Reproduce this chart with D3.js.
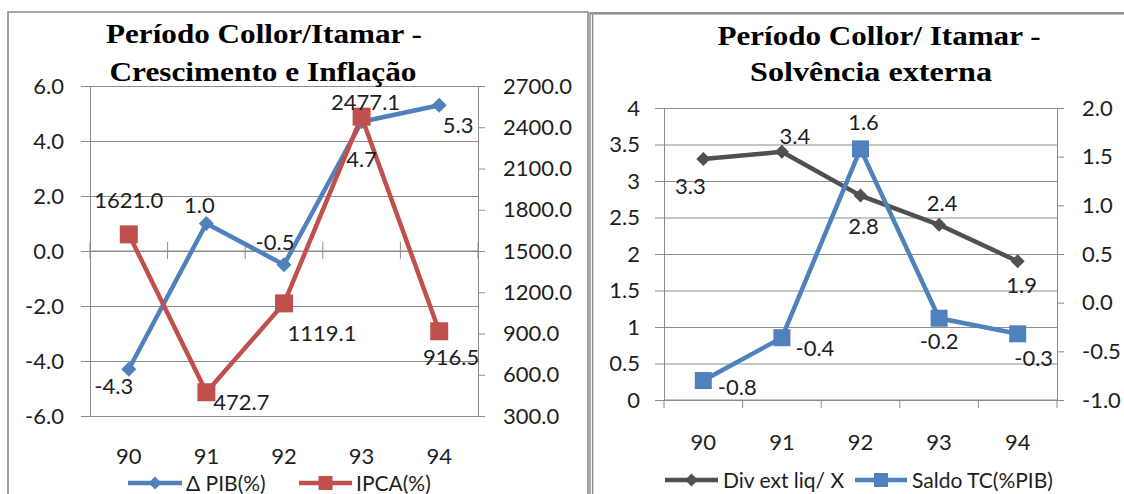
<!DOCTYPE html>
<html><head><meta charset="utf-8">
<script src="https://cdn.jsdelivr.net/npm/d3@7"></script>
<style>
html,body{margin:0;padding:0;background:#fff;}
svg{display:block;}
</style>
</head><body>
<script>
// ---------- DATA ----------
const years = ["90", "91", "92", "93", "94"];
// Chart 1: Crescimento e Inflação
const pib = [-4.3, 1.0, -0.5, 4.7, 5.3];            // Δ PIB(%)
const ipca = [1621.0, 472.7, 1119.1, 2477.1, 916.5]; // IPCA(%)
const pibTicks = [-6, -4, -2, 0, 2, 4, 6];
const ipcaTicks = [300, 600, 900, 1200, 1500, 1800, 2100, 2400, 2700];
// Chart 2: Solvência externa
const divExt = [3.3, 3.4, 2.8, 2.4, 1.9];           // Div ext liq/ X
const saldoTC = [-0.8, -0.36, 1.58, -0.16, -0.32];  // Saldo TC(%PIB)
const divTicks = [0, 0.5, 1, 1.5, 2, 2.5, 3, 3.5, 4];
const saldoTicks = [-1, -0.5, 0, 0.5, 1, 1.5, 2];

const titles1 = ["Período Collor/Itamar -", "Crescimento e Inflação"];
const titles2 = ["Período Collor/ Itamar -", "Solvência externa"];
const legend1 = ["Δ PIB(%)", "IPCA(%)"];
const legend2 = ["Div ext liq/ X", "Saldo TC(%PIB)"];

// ---------- STYLE ----------
const BLUE = "#4f81bd", RED = "#c0504d", DARK = "#505050", GRID = "#8c8c8c", TXT = "#1e1e1e";
const SANS = "Lato, 'Open Sans', 'DejaVu Sans', sans-serif";
const SERIF = "'Liberation Serif', 'Times New Roman', serif";
const FS = 22;
const loc = d3.formatLocale({decimal: ".", thousands: ",", grouping: [3], currency: ["", ""], minus: "-"});
const f1 = loc.format(".1f");
// data-label offsets (dx, dy) from each point
const pibLabelOff = [[-15, 17], [-7, -18], [-9, -23], [0, 37], [19, 20]];
const ipcaLabelOff = [[0, -34], [35, 10], [38, 30], [4, -15], [12, 26]];
const divLabelOff = [[-13, 27], [13, -16], [3, 30], [3, -22], [4, 24]];
const saldoLabelOff = [[34, 7], [33, 10], [3, -27], [0, 23], [16, 24]];

const svg = d3.select("body").append("svg").attr("width", 1124).attr("height", 494);

// chart frames
svg.append("path").attr("d", "M8,494V12H588V494").attr("fill", "none").attr("stroke", "#8a8a8a").attr("stroke-width", 1.6);
svg.append("path").attr("d", "M590,494V13H1124").attr("fill", "none").attr("stroke", "#8a8a8a").attr("stroke-width", 1.4);
svg.append("path").attr("d", "M592.6,494V14.5").attr("fill", "none").attr("stroke", "#8a8a8a").attr("stroke-width", 1.4);
svg.append("path").attr("d", "M590,13.4H1124").attr("fill", "none").attr("stroke", "#8a8a8a").attr("stroke-width", 2);

function styleAxis(g) {
  g.attr("font-family", null).attr("font-size", null);
  g.selectAll("text").attr("font-family", SANS).attr("font-size", FS).attr("fill", TXT);
  g.selectAll("line").attr("stroke", GRID).attr("stroke-width", 1);
  g.select(".domain").attr("stroke", GRID).attr("stroke-width", 1);
}

function markerPath(type, size) {
  if (type === "diamond") return d3.symbol(d3.symbolSquare, size * size / 2)();
  return d3.symbol(d3.symbolSquare, size * size)();
}

function drawChart(o) {
  const g = svg.append("g");
  const x = d3.scaleBand().domain(years).range([o.x0, o.x1]).padding(0);
  const yL = d3.scaleLinear().domain(o.lDomain).range([o.y1, o.y0]);
  const yR = d3.scaleLinear().domain(o.rDomain).range([o.y1, o.y0]);
  const cx = d => x(d) + x.bandwidth() / 2;

  // gridlines
  g.append("g").attr("transform", `translate(${o.x0},0)`)
    .call(d3.axisLeft(yL).tickValues(o.lTicks).tickSize(-(o.x1 - o.x0)).tickFormat(""))
    .call(a => { a.select(".domain").remove(); a.selectAll("line").attr("stroke", GRID).attr("stroke-width", 1); });

  // left axis
  g.append("g").attr("transform", `translate(${o.x0},0)`)
    .call(d3.axisLeft(yL).tickValues(o.lTicks).tickFormat(o.lFmt).tickSize(9).tickSizeOuter(0).tickPadding(o.lPad))
    .call(a => styleAxis(a));
  // right axis
  g.append("g").attr("transform", `translate(${o.x1},0)`)
    .call(d3.axisRight(yR).tickValues(o.rTicks).tickFormat(o.rFmt).tickSize(7).tickSizeOuter(0).tickPadding(18))
    .call(a => styleAxis(a));

  // category axis (line + boundary ticks)
  const bounds = years.map(d => x(d)).concat([o.x1]);
  const yAx = yL(o.catAt);
  g.append("line").attr("x1", o.x0).attr("x2", o.x1).attr("y1", yAx).attr("y2", yAx).attr("stroke", GRID);
  g.selectAll(".ctick").data(bounds).join("line")
    .attr("x1", d => d).attr("x2", d => d)
    .attr("y1", yAx - o.tickUp).attr("y2", yAx + 8)
    .attr("stroke", GRID);
  g.selectAll(".clabel").data(years).join("text")
    .attr("x", d => cx(d)).attr("y", o.catLabelY).attr("dy", "0.36em")
    .attr("text-anchor", "middle").attr("font-family", SANS).attr("font-size", FS).attr("fill", TXT)
    .text(d => d);

  // series
  o.series.forEach(s => {
    const sc = s.axis === "L" ? yL : yR;
    const line = d3.line().x((d, i) => cx(years[i])).y(d => sc(d));
    g.append("path").datum(s.values).attr("d", line)
      .attr("fill", "none").attr("stroke", s.color).attr("stroke-width", 4.5).attr("stroke-linejoin", "round");
    g.selectAll(null).data(s.values).join("path")
      .attr("d", markerPath(s.marker, s.msize))
      .attr("transform", (d, i) => `translate(${cx(years[i])},${sc(d)})` + (s.marker === "diamond" ? " rotate(45)" : ""))
      .attr("fill", s.color);
  });
  // labels
  o.series.forEach(s => {
    const sc = s.axis === "L" ? yL : yR;
    g.selectAll(null).data(s.values).join("text")
      .attr("x", (d, i) => cx(years[i]) + s.off[i][0])
      .attr("y", (d, i) => sc(d) + s.off[i][1])
      .attr("dy", "0.36em").attr("text-anchor", "middle")
      .attr("font-family", SANS).attr("font-size", FS).attr("fill", TXT)
      .text(d => f1(d));
  });

  // titles
  o.titles.forEach((t, i) => {
    g.append("text").attr("x", o.titlePos[i][0]).attr("y", o.titlePos[i][1])
      .attr("text-anchor", "middle").attr("font-family", SERIF).attr("font-weight", "bold")
      .attr("font-size", 27).attr("fill", "#000")
      .attr("textLength", o.titlePos[i][2]).attr("lengthAdjust", "spacingAndGlyphs")
      .text(t);
  });

  // legend
  o.series.forEach((s, i) => {
    const L = o.legend[i];
    g.append("line").attr("x1", L.x0).attr("x2", L.x1).attr("y1", o.legendY).attr("y2", o.legendY)
      .attr("stroke", s.color).attr("stroke-width", 4.5);
    g.append("path").attr("d", markerPath(s.marker, s.marker === "diamond" ? 13 : 14))
      .attr("transform", `translate(${(L.x0 + L.x1) / 2},${o.legendY})` + (s.marker === "diamond" ? " rotate(45)" : ""))
      .attr("fill", s.color);
    g.append("text").attr("x", L.tx).attr("y", o.legendY).attr("dy", "0.36em")
      .attr("font-family", SANS).attr("font-size", 21).attr("fill", TXT).text(s.name);
  });
}

drawChart({
  x0: 90, x1: 478, y0: 86, y1: 416,
  lDomain: [-6, 6], rDomain: [300, 2700],
  lTicks: pibTicks, rTicks: ipcaTicks,
  lFmt: f1, rFmt: f1, lPad: 17,
  catAt: 0, tickUp: 9, catLabelY: 456,
  series: [
    {name: legend1[0], values: pib, axis: "L", color: BLUE, marker: "diamond", msize: 15, off: pibLabelOff},
    {name: legend1[1], values: ipca, axis: "R", color: RED, marker: "square", msize: 18, off: ipcaLabelOff}
  ],
  titles: titles1,
  titlePos: [[264, 43, 316], [263, 81, 307]],
  legendY: 483,
  legend: [{x0: 128, x1: 182, tx: 186}, {x0: 299, x1: 352, tx: 356}]
});

drawChart({
  x0: 664, x1: 1057, y0: 108, y1: 400,
  lDomain: [0, 4], rDomain: [-1, 2],
  lTicks: divTicks, rTicks: saldoTicks,
  lFmt: d => String(d), rFmt: f1, lPad: 15,
  catAt: 0, tickUp: 0, catLabelY: 442,
  series: [
    {name: legend2[0], values: divExt, axis: "L", color: DARK, marker: "diamond", msize: 14, off: divLabelOff},
    {name: legend2[1], values: saldoTC, axis: "R", color: BLUE, marker: "square", msize: 17, off: saldoLabelOff}
  ],
  titles: titles2,
  titlePos: [[879, 45, 323], [871, 81, 242]],
  legendY: 480,
  legend: [{x0: 665, x1: 718, tx: 723}, {x0: 855, x1: 907, tx: 912}]
});
</script>
</body></html>
